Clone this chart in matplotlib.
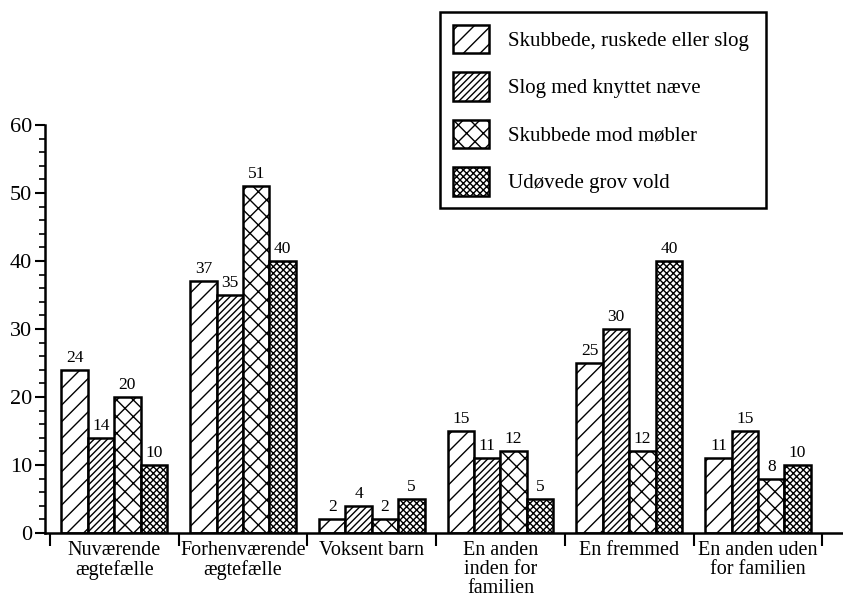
import numpy as np
import matplotlib
matplotlib.use("Agg")
import matplotlib.pyplot as plt
from matplotlib.ticker import MultipleLocator, FixedLocator

plt.rcParams['font.family'] = ['Liberation Serif', 'DejaVu Serif']
plt.rcParams['hatch.linewidth'] = 1.0

# categories (x axis)
categories = ["Nuværende\nægtefælle", "Forhenværende\nægtefælle", "Voksent barn",
              "En anden\ninden for\nfamilien", "En fremmed", "En anden uden\nfor familien"]

# series
series_names = ["Skubbede, ruskede eller slog", "Slog med knyttet næve",
                "Skubbede mod møbler", "Udøvede grov vold"]
skubbede_ruskede = [24, 37, 2, 15, 25, 11]
slog_naeve = [14, 35, 4, 11, 30, 15]
skubbede_moebler = [20, 51, 2, 12, 12, 8]
grov_vold = [10, 40, 5, 5, 40, 10]

series_values = [skubbede_ruskede, slog_naeve, skubbede_moebler, grov_vold]
hatches = ['//', '/////', 'xx', 'xxxxx']

fig = plt.figure(figsize=(8.43, 6.01), dpi=100)
ax = fig.add_axes([0.053, 0.113, 0.947, 0.679])

x = np.arange(len(categories))
bar_w = 0.205
offsets = (np.arange(4) - 1.5) * bar_w

handles = []
for vals, off, h, name in zip(series_values, offsets, hatches, series_names):
    bars = ax.bar(x + off, vals, width=bar_w, facecolor='white', edgecolor='black',
                  linewidth=1.8, hatch=h, label=name)
    handles.append(bars)
    for xi, v in zip(x + off, vals):
        ax.text(xi, v + 0.6, str(v), ha='center', va='bottom', fontsize=12.5)

ax.set_xlim(-0.54, 5.66)
ax.set_ylim(0, 60)

# y axis ticks
ax.yaxis.set_major_locator(MultipleLocator(10))
ax.yaxis.set_minor_locator(MultipleLocator(2))
ax.tick_params(axis='y', which='major', direction='out', length=7, width=1.5,
               labelsize=16, pad=2)
ax.tick_params(axis='y', which='minor', direction='out', length=4, width=1.2)

# x axis: ticks at group boundaries, labels at centres
ax.xaxis.set_major_locator(FixedLocator(np.arange(len(categories) + 1) - 0.5))
ax.xaxis.set_major_formatter(plt.NullFormatter())
ax.xaxis.set_minor_locator(FixedLocator(x))
ax.set_xticklabels(categories, minor=True, fontsize=14.5, linespacing=0.97, va='top')
ax.tick_params(axis='x', which='major', direction='out', length=9, width=1.5)
ax.tick_params(axis='x', which='minor', length=0, pad=6)

for side in ['top', 'right']:
    ax.spines[side].set_visible(False)
for side in ['left', 'bottom']:
    ax.spines[side].set_linewidth(1.8)

leg = fig.legend(handles=handles, loc='upper left',
                 bbox_to_anchor=(440 / 843, 1 - 220 / 601, 326 / 843, 208 / 601),
                 mode='expand', fontsize=15, frameon=True, fancybox=False,
                 handlelength=1.75, handleheight=1.75, labelspacing=0.9,
                 handletextpad=0.9, borderpad=0.6, borderaxespad=0)
leg.get_frame().set_edgecolor('black')
leg.get_frame().set_linewidth(1.8)
leg.get_frame().set_alpha(1)

fig.savefig("out.png", dpi=100)
